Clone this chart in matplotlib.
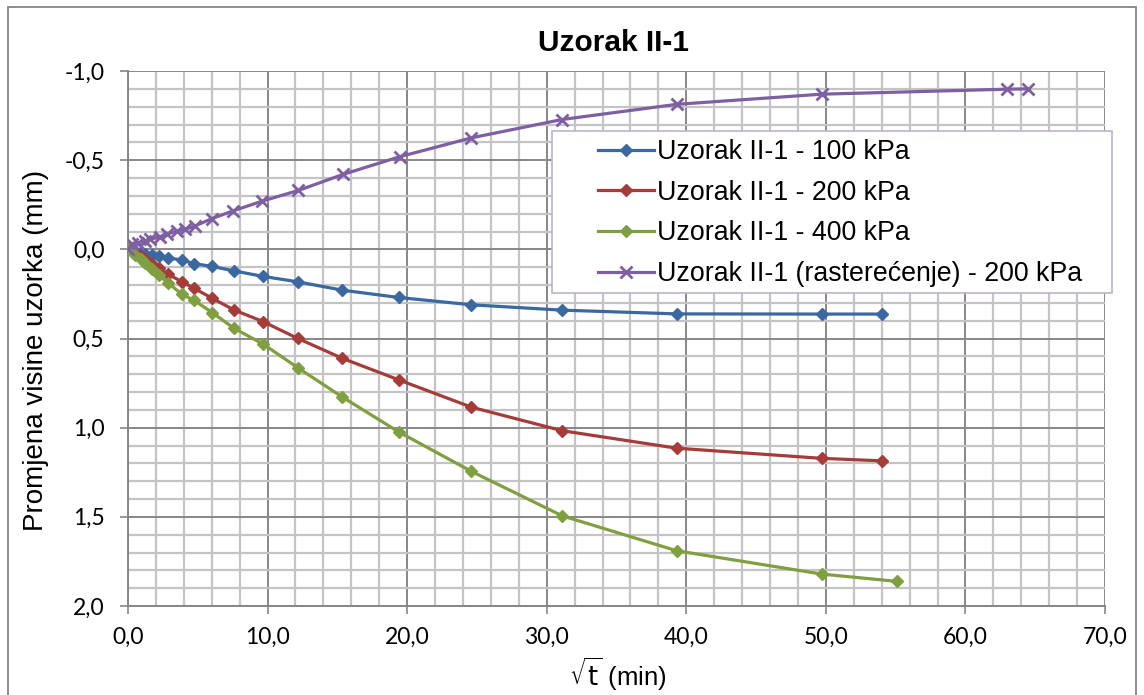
import matplotlib
matplotlib.use("Agg")
import matplotlib.pyplot as plt
from matplotlib.patches import Rectangle
from matplotlib.ticker import FixedLocator, FixedFormatter, MultipleLocator

# ---------------- data ----------------
x_load = [0, 0.5, 0.9, 1.2, 1.7, 2.2, 2.9, 3.85, 4.73, 6.04, 7.6, 9.7, 12.15,
          15.35, 19.4, 24.6, 31.1, 39.3, 49.7, 54.0]
y_100 = [0, 0.01, 0.02, 0.028, 0.033, 0.04, 0.048, 0.06, 0.08, 0.096, 0.121,
         0.152, 0.182, 0.229, 0.27, 0.311, 0.341, 0.362, 0.363, 0.363]
y_200 = [0, 0.02, 0.04, 0.055, 0.08, 0.105, 0.14, 0.182, 0.218, 0.275, 0.34,
         0.406, 0.499, 0.611, 0.732, 0.885, 1.017, 1.115, 1.172, 1.186]
x_400 = [0, 0.5, 0.9, 1.2, 1.7, 2.2, 2.9, 3.85, 4.73, 6.04, 7.6, 9.7, 12.15,
         15.35, 19.4, 24.6, 31.1, 39.3, 49.7, 55.1]
y_400 = [0, 0.03, 0.055, 0.075, 0.11, 0.145, 0.19, 0.252, 0.286, 0.355, 0.443,
         0.532, 0.663, 0.828, 1.024, 1.245, 1.494, 1.69, 1.821, 1.862]
x_unl = [0, 0.26, 0.74, 1.2, 1.58, 2.3, 2.77, 3.5, 4.1, 4.8, 6.0, 7.5, 9.6,
         12.2, 15.4, 19.5, 24.6, 31.1, 39.3, 49.7, 63.0, 64.5]
y_unl = [0, -0.028, -0.037, -0.047, -0.056, -0.071, -0.084, -0.103, -0.112,
         -0.131, -0.172, -0.215, -0.27, -0.33, -0.42, -0.52, -0.625, -0.728,
         -0.813, -0.87, -0.898, -0.90]

labels = ["Uzorak II-1 - 100 kPa", "Uzorak II-1 - 200 kPa",
          "Uzorak II-1 - 400 kPa", "Uzorak II-1 (rasterećenje) - 200 kPa"]
title = "Uzorak II-1"
ylabel = "Promjena visine uzorka (mm)"
xlabel = r"$\sqrt{\mathrm{t}}$ (min)"
xticks = [0, 10, 20, 30, 40, 50, 60, 70]
xticklabels = ["0,0", "10,0", "20,0", "30,0", "40,0", "50,0", "60,0", "70,0"]
yticks = [-1.0, -0.5, 0.0, 0.5, 1.0, 1.5, 2.0]
yticklabels = ["-1,0", "-0,5", "0,0", "0,5", "1,0", "1,5", "2,0"]

colors = ["#3B68A0", "#A53C3A", "#809F40", "#7F5FA3"]

# ---------------- figure ----------------
W, H = 1144, 695
fig = plt.figure(figsize=(W / 100, H / 100), dpi=100)
fig.patch.set_facecolor("white")

def fx(px):
    return px / W

def fy(py):
    return 1 - py / H

ax = fig.add_axes([fx(128), fy(606), fx(1105) - fx(128), fy(71) - fy(606)])

ax.plot(x_load, y_100, color=colors[0], lw=2.3, marker="D", ms=6.3, label=labels[0], zorder=3)
ax.plot(x_load, y_200, color=colors[1], lw=2.3, marker="D", ms=6.3, label=labels[1], zorder=3)
ax.plot(x_400, y_400, color=colors[2], lw=2.3, marker="D", ms=6.3, label=labels[2], zorder=3)
ax.plot(x_unl, y_unl, color=colors[3], lw=2.3, marker="x", ms=8.5, mew=2.0, label=labels[3], zorder=3)

ax.set_xlim(0, 70)
ax.set_ylim(2.0, -1.0)

ax.xaxis.set_major_locator(FixedLocator(xticks))
ax.xaxis.set_major_formatter(FixedFormatter(xticklabels))
ax.yaxis.set_major_locator(FixedLocator(yticks))
ax.yaxis.set_major_formatter(FixedFormatter(yticklabels))
ax.xaxis.set_minor_locator(MultipleLocator(2))
ax.yaxis.set_minor_locator(MultipleLocator(0.1))

ax.grid(which="minor", color="#c4c4c4", lw=1.6, zorder=0)
ax.grid(which="major", color="#878787", lw=1.4, zorder=0)
ax.set_axisbelow(True)

for s in ["top", "right"]:
    ax.spines[s].set_visible(False)
for s in ["left", "bottom"]:
    ax.spines[s].set_color("#868686")
    ax.spines[s].set_linewidth(1.4)

tickfont = "Lato"
ax.tick_params(axis="both", which="major", direction="out", length=6,
               width=1.2, color="#868686", labelsize=16.5)
ax.tick_params(axis="both", which="minor", length=0)
ax.tick_params(axis="x", pad=9)
ax.tick_params(axis="y", pad=11)
for lab in ax.get_xticklabels() + ax.get_yticklabels():
    lab.set_fontfamily(tickfont)

fig.text(fx(614), fy(43), title, ha="center", va="center",
         fontsize=21.5, fontweight="bold", family="Liberation Sans")
fig.text(fx(36), fy(350), ylabel, ha="center", va="center", rotation=90,
         fontsize=20, family="Liberation Sans")
fig.text(fx(618), fy(674), xlabel, ha="center", va="center",
         fontsize=18.5, family="Liberation Sans")

# legend frame
fig.add_artist(Rectangle((fx(552), fy(293)), fx(1112) - fx(552), fy(131) - fy(293),
                         transform=fig.transFigure, facecolor="white",
                         edgecolor="#bdb3cc", lw=1.2, zorder=3))
handles, labs = ax.get_legend_handles_labels()
leg = fig.legend(handles, labs, loc="upper left",
                 bbox_to_anchor=(fx(598), fy(139)), frameon=False,
                 prop={"family": "Liberation Sans", "size": 19.3},
                 handlelength=2.1, handletextpad=0.1, labelspacing=0.55,
                 borderpad=0, borderaxespad=0)
leg.set_zorder(5)

# chart border
fig.add_artist(Rectangle((fx(8), -0.02), fx(1136) - fx(8), fy(7) + 0.02,
                         transform=fig.transFigure, fill=False,
                         edgecolor="#868686", lw=1.3, zorder=0))

fig.savefig("out.png", dpi=100)
